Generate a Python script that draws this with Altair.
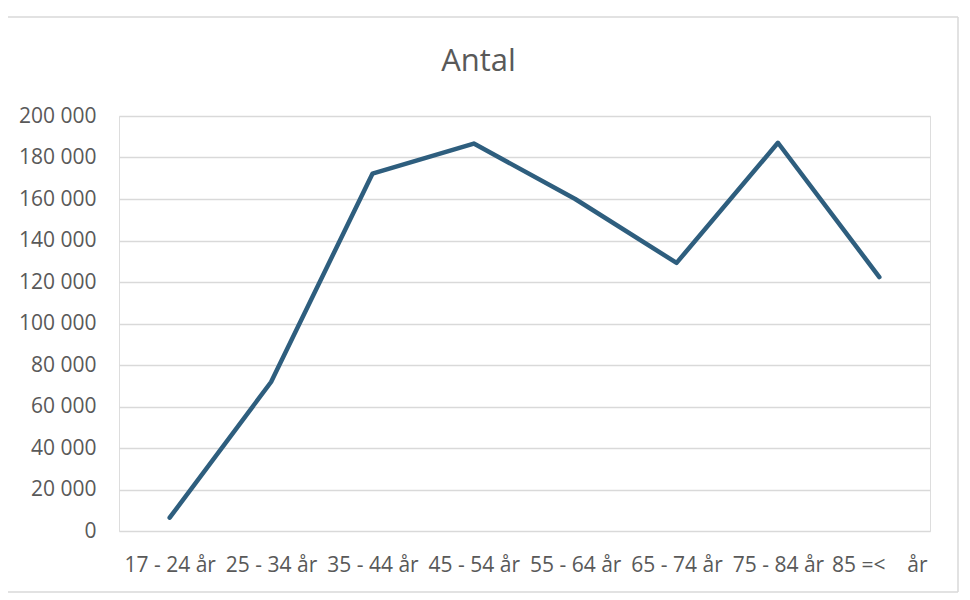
import altair as alt
import pandas as pd

categories = ["17 - 24 år", "25 - 34 år", "35 - 44 år", "45 - 54 år",
              "55 - 64 år", "65 - 74 år", "75 - 84 år", "85 =<  år"]
antal = [6400, 71800, 172200, 186700, 160000, 129200, 187100, 122400]
y_ticks = [0, 20000, 40000, 60000, 80000, 100000, 120000, 140000, 160000, 180000, 200000]

df = pd.DataFrame({"kategori": categories, "antal": antal})

FONT = "Open Sans"
TXT = "#595959"
NB = "\u00a0"

line = alt.Chart(df).mark_line(
    color="#2E5E7E", strokeWidth=4.5, strokeCap="round", strokeJoin="round"
).encode(
    x=alt.X("kategori:N", sort=categories, title=None,
            scale=alt.Scale(padding=0.5),
            axis=alt.Axis(labelAngle=0, grid=False, domain=False, ticks=False,
                          labelPadding=23, labelFont=FONT, labelFontSize=21,
                          labelColor=TXT, labelOverlap=False,
                          labelExpr=f"replace(datum.label, '  ', '{NB}{NB}{NB} ')")),
    y=alt.Y("antal:Q", title=None,
            scale=alt.Scale(domain=[0, 200000], nice=False),
            axis=alt.Axis(values=y_ticks, grid=True, gridColor="#d9d9d9", gridWidth=1.3,
                          domain=False, ticks=False, labelPadding=23,
                          labelFont=FONT, labelFontSize=21, labelColor=TXT,
                          labelExpr="replace(format(datum.value, ','), ',', ' ')")),
)

frame_df = pd.DataFrame({"k": [0]})
top = alt.Chart(frame_df).mark_rule(color="#d9d9d9", strokeWidth=1.5, clip=False).encode(
    x=alt.value(-130), x2=alt.value(839), y=alt.value(-99))
right = alt.Chart(frame_df).mark_rule(color="#d9d9d9", strokeWidth=1.5, clip=False).encode(
    x=alt.value(839), y=alt.value(-99), y2=alt.value(476))
bottom = alt.Chart(frame_df).mark_rule(color="#d9d9d9", strokeWidth=1.5, clip=False).encode(
    x=alt.value(-130), x2=alt.value(839), y=alt.value(476))

chart = alt.layer(line, top, right, bottom).properties(
    width=811, height=415,
    title=alt.TitleParams("Antal", font=FONT, fontSize=31, fontWeight="normal",
                          color=TXT, anchor="middle", frame="group", offset=0,
                          baseline="alphabetic", dy=86, dx=-46),
    autosize=alt.AutoSizeParams(type="none"),
    padding={"left": 111, "top": 108, "right": 32, "bottom": 64},
).configure_view(stroke=None).configure(background="white")

chart.save("out.html", embed_options={"renderer": "svg", "actions": False})
